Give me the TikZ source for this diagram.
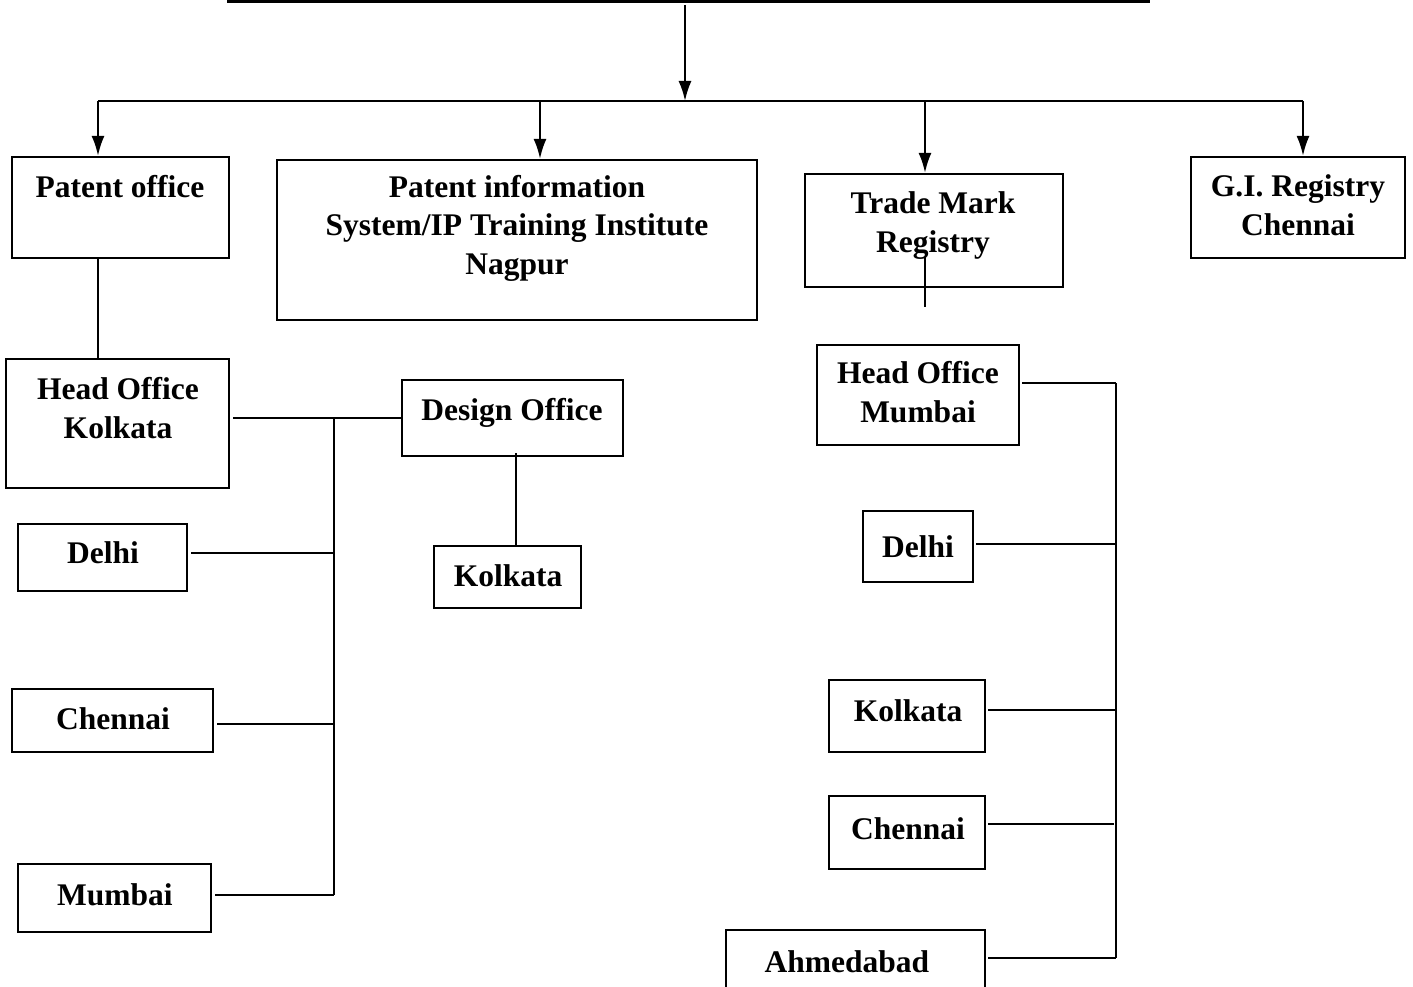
\documentclass[tikz,border=0pt]{standalone}
\usepackage{fontspec}
\setmainfont{Liberation Serif}
\usetikzlibrary{arrows.meta}
\begin{document}
\begin{tikzpicture}[x=1pt,y=-1pt,
  box/.style={draw,line width=2.2pt,inner sep=0pt},
  txt/.style={font=\fontsize{31.5}{38.5}\selectfont\bfseries,align=center,inner sep=0pt,anchor=base},
  ln/.style={line width=2.2pt},
  arr/.style={line width=2.2pt,-{Latex[length=20pt,width=13pt]}}]
\useasboundingbox (0,0) rectangle (1413,987);
% boxes
\node[box,minimum width=217pt,minimum height=101pt] (po) at (120.5,207.5) {};
\node[box,minimum width=480pt,minimum height=160pt] (pis) at (517,240) {};
\node[box,minimum width=258pt,minimum height=113pt] (tm) at (934,230.5) {};
\node[box,minimum width=214pt,minimum height=101pt] (gi) at (1298,207.5) {};
\node[box,minimum width=223pt,minimum height=129pt] (hok) at (117.5,423.5) {};
\node[box,minimum width=221pt,minimum height=76pt] (do) at (512.5,418) {};
\node[box,minimum width=147pt,minimum height=62pt] (dk) at (507.5,577) {};
\node[box,minimum width=169pt,minimum height=67pt] (d1) at (102.5,557.5) {};
\node[box,minimum width=201pt,minimum height=63pt] (c1) at (112.5,720.5) {};
\node[box,minimum width=193pt,minimum height=68pt] (m1) at (114.5,898) {};
\node[box,minimum width=202pt,minimum height=100pt] (hom) at (918,395) {};
\node[box,minimum width=110pt,minimum height=71pt] (d2) at (918,546.5) {};
\node[box,minimum width=156pt,minimum height=72pt] (k2) at (907,716) {};
\node[box,minimum width=156pt,minimum height=73pt] (c2) at (907,832.5) {};
\node[box,minimum width=259pt,minimum height=90pt] (ah) at (855.5,975) {};
% texts (base = last line)
\node[txt] (tpo) at (120,197) {Patent office};
\node[txt] (tpis) at (517,274) {Patent information\\System/IP Training Institute\\Nagpur};
\node[txt] (ttm) at (933,252) {Trade Mark\\Registry};
\node[txt] (tgi) at (1298,235) {G.I. Registry\\Chennai};
\node[txt] (thok) at (118,438) {Head Office\\Kolkata};
\node[txt] (tdo) at (512,420) {Design Office};
\node[txt] (tdk) at (508,586) {Kolkata};
\node[txt] (td1) at (103,563) {Delhi};
\node[txt] (tc1) at (113,729) {Chennai};
\node[txt] (tm1) at (115,905) {Mumbai};
\node[txt] (thom) at (918,422) {Head Office\\Mumbai};
\node[txt] (td2) at (918,557) {Delhi};
\node[txt] (tk2) at (908,721) {Kolkata};
\node[txt] (tc2) at (908,839) {Chennai};
\node[txt] (tah) at (847,972) {Ahmedabad};
% top structure
\coordinate (topL) at (227,1.5);
\coordinate (topR) at (1150,1.5);
\coordinate (top) at (685,5);
\coordinate (busL) at (98,101);
\coordinate (busR) at (1303,101);
\coordinate (busC) at (685,101);
\draw[ln] (topL) -- (topR);
\draw[arr] (top) -- (busC);
\draw[ln] (busL) -- (busR);
\coordinate (b1) at (98,101);
\coordinate (b2) at (540,101);
\coordinate (b3) at (925,101);
\coordinate (b4) at (1303,101);
\draw[arr] (b1) -- (b1 |- po.north);
\draw[arr] (b2) -- (b2 |- pis.north);
\draw[arr] (b3) -- (b3 |- tm.north);
\draw[arr] (b4) -- (b4 |- gi.north);
% left
\draw[ln] (b1 |- po.south) -- (b1 |- hok.north);
\coordinate (sp1) at (334,418);
\coordinate (sp1b) at (334,895);
\draw[ln] ([xshift=3pt]hok.east |- sp1) -- (do.west |- sp1);
\draw[ln] (sp1) -- (sp1b);
\draw[ln] ([xshift=3pt]d1.east |- 0,553) -- (334,553);
\draw[ln] ([xshift=3pt]c1.east |- 0,724) -- (334,724);
\draw[ln] ([xshift=3pt]m1.east |- sp1b) -- (sp1b);
\coordinate (dx) at (516,0);
\draw[ln] ([yshift=4pt]dx |- do.south) -- (dx |- dk.north);
% trade mark stub
\coordinate (tmA) at (925,257);
\coordinate (tmB) at (925,307);
\draw[ln] (tmA) -- (tmB);
% right
\coordinate (sp2) at (1116,383);
\coordinate (sp2b) at (1116,958);
\draw[ln] (sp2) -- (sp2b);
\draw[ln] ([xshift=2pt]hom.east |- sp2) -- (sp2);
\draw[ln] ([xshift=2pt]d2.east |- 0,544) -- (1116,544);
\draw[ln] ([xshift=2pt]k2.east |- 0,710) -- (1116,710);
\draw[ln] ([xshift=2pt]c2.east |- 0,824) -- (1114,824);
\draw[ln] ([xshift=2pt]ah.east |- sp2b) -- (sp2b);
\end{tikzpicture}
\end{document}
